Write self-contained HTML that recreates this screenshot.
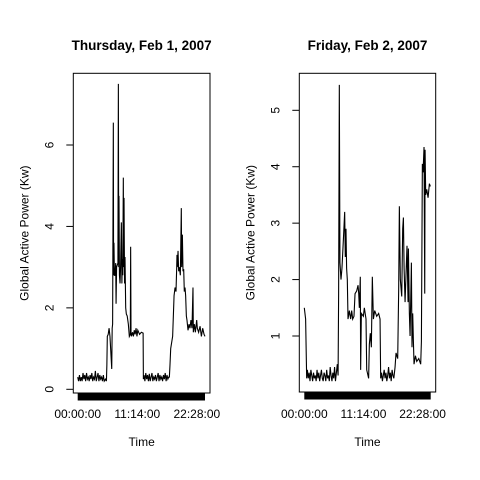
<!DOCTYPE html>
<html><head><meta charset="utf-8"><style>
html,body{margin:0;padding:0;background:#fff}
svg{display:block;font-family:"Liberation Sans",Arial,sans-serif}
</style></head><body>
<svg id="chart" width="480" height="480" viewBox="0 0 480 480" xmlns="http://www.w3.org/2000/svg">
<rect width="480" height="480" fill="#fff"/>
</svg>
<script>
// Thursday data (minute of day, global active power kW)
const thuMinutes=[0,10,20,30,40,50,60,70,80,90,100,110,120,130,140,150,160,170,180,190,200,210,220,230,240,250,260,270,280,290,300,315,325,330,335,345,355,365,385,390,395,403,406,410,415,422,430,434,440,455,460,464,467,472,479,485,494,500,505,510,516,520,524,530,535,543,550,560,573,584,595,599,603,607,620,630,640,650,660,670,680,690,700,720,740,743,750,760,770,780,790,800,810,820,830,840,850,860,870,880,890,900,910,920,930,940,950,960,970,980,990,1000,1010,1020,1030,1037,1044,1052,1074,1090,1101,1112,1120,1123,1127,1135,1142,1150,1161,1172,1176,1184,1191,1199,1206,1214,1221,1229,1236,1248,1259,1270,1281,1293,1304,1308,1320,1331,1346,1353,1368,1384,1399,1414,1429,1440];
const thuPower=[0.3,0.2,0.35,0.2,0.3,0.2,0.4,0.25,0.35,0.2,0.4,0.25,0.3,0.2,0.35,0.25,0.4,0.2,0.3,0.25,0.45,0.2,0.3,0.4,0.2,0.35,0.25,0.3,0.2,0.35,0.2,0.25,0.2,0.6,1.3,1.35,1.5,1.3,0.5,1.5,1.6,6.55,2.8,3.6,2.8,2.8,3.1,2.1,3.0,3.1,7.5,3.0,4.75,2.8,2.6,3.0,4.1,2.6,3.2,2.8,5.2,3.0,4.7,2.6,3.25,2.0,1.85,1.8,1.6,1.3,1.35,3.5,1.4,1.3,1.4,1.3,1.45,1.35,1.5,1.3,1.45,1.4,1.35,1.4,1.38,0.25,0.35,0.2,0.4,0.25,0.35,0.2,0.38,0.2,0.3,0.4,0.2,0.3,0.25,0.35,0.2,0.3,0.4,0.2,0.35,0.25,0.3,0.2,0.35,0.25,0.4,0.2,0.35,0.25,0.3,0.3,0.6,1.0,1.3,2.3,2.5,2.4,3.0,3.3,3.0,3.4,2.9,3.0,2.8,4.45,3.0,3.8,2.9,2.95,2.4,2.5,2.3,1.8,1.7,1.45,1.6,1.5,1.7,1.5,2.5,1.4,1.6,1.4,1.7,1.5,1.4,1.55,1.3,1.5,1.35,1.3];
// Friday data
const friMinutes=[0,15,27,35,45,55,65,75,85,95,105,115,125,135,145,155,165,175,185,195,205,215,225,235,245,255,265,275,285,295,305,315,325,335,345,355,369,376,385,391,399,406,418,429,445,460,467,475,482,490,498,513,528,540,551,566,578,597,612,620,627,638,642,650,673,684,703,711,733,741,752,764,775,787,802,825,847,863,870,880,890,900,910,920,930,940,950,960,970,980,990,1000,1010,1020,1034,1045,1064,1075,1083,1094,1110,1121,1129,1137,1148,1170,1182,1186,1197,1205,1220,1227,1235,1243,1250,1266,1281,1304,1326,1334,1345,1353,1364,1372,1376,1383,1395,1410,1425,1436];
const friPower=[1.5,1.3,0.25,0.4,0.25,0.35,0.2,0.4,0.3,0.2,0.35,0.25,0.3,0.2,0.4,0.25,0.35,0.2,0.3,0.4,0.25,0.2,0.35,0.3,0.2,0.4,0.25,0.3,0.2,0.45,0.3,0.2,0.35,0.25,0.45,0.2,0.4,0.5,0.3,1.75,5.45,2.3,2.0,2.2,2.7,3.2,2.4,2.9,2.2,2.0,1.3,1.45,1.3,1.45,1.3,1.35,1.75,1.8,1.9,1.75,1.5,2.05,0.4,1.4,1.35,1.5,1.3,0.4,0.25,0.85,1.05,0.8,2.05,1.3,1.45,1.35,1.4,1.3,0.25,0.35,0.2,0.3,0.4,0.25,0.35,0.2,0.3,0.45,0.25,0.35,0.2,0.4,0.3,0.25,0.45,0.7,0.6,1.8,3.3,2.0,1.7,2.9,3.1,2.2,1.6,2.6,1.6,2.55,1.4,1.0,2.3,0.8,1.4,0.9,0.5,0.65,0.55,0.6,0.5,0.9,4.05,3.9,4.35,1.75,4.3,3.5,3.6,3.45,3.7,3.65];
const yTicksThu=[0,2,4,6];
const yTicksFri=[1,2,3,4,5];
const xTickLabels=["00:00:00","11:14:00","22:28:00"];
const xTickMinutes=[0,674,1348];

const NS="http://www.w3.org/2000/svg";
const svg=document.getElementById('chart');
function mk(tag,attrs,parent){const e=document.createElementNS(NS,tag);for(const k in attrs)e.setAttribute(k,attrs[k]);(parent||svg).appendChild(e);return e;}

function panel(p){
  const g=mk('g',{});
  
  
  const xS=m=>p.dx0+m/1440*(p.dx1-p.dx0);
  const yS=v=>p.y0+(p.y1-p.y0)*(v-p.v0)/(p.v1-p.v0);
  // title
  const t=mk('text',{x:(p.bx0+p.bx1)/2,y:50,'text-anchor':'middle','font-size':'13.5','font-weight':'bold',fill:'#000'},g);
  t.textContent=p.title;
  
  
  // box
  const b=mk('rect',{x:p.bx0,y:73.3,width:p.bx1-p.bx0,height:p.by1-73.3,fill:'none',stroke:'#000','stroke-width':1},g);
  
  
  // y ticks
  p.yt.forEach(v=>{
    const y=yS(v);
    const l=mk('line',{x1:p.bx0,x2:p.bx0-7,y1:y,y2:y,stroke:'#000'},g);
    
    
    const tx=p.bx0-20;
    const tl=mk('text',{x:tx,y:y,'font-size':'12','text-anchor':'middle',transform:`rotate(-90 ${tx} ${y})`,fill:'#000'},g);
    tl.textContent=v;
    
    
  });
  // x tick bar (many minute ticks)
  const bar=mk('rect',{x:p.dx0,y:p.by1,width:p.dx1-p.dx0,height:7.5,fill:'#000'},g);
  
  
  xTickLabels.forEach((s,i)=>{
    const xl=mk('text',{x:xS(xTickMinutes[i]),y:418,'font-size':'12','text-anchor':'middle',fill:'#000'},g);
    xl.textContent=s;
    
    
  });
  const xt=mk('text',{x:(p.bx0+p.bx1)/2,y:446,'font-size':'12','text-anchor':'middle',fill:'#000'},g);
  xt.textContent='Time';
  
  
  const yy=(73.3+p.by1)/2, yx=p.bx0-45;
  const yt=mk('text',{x:yx,y:yy,'font-size':'12','text-anchor':'middle',transform:`rotate(-90 ${yx} ${yy})`,fill:'#000'},g);
  yt.textContent='Global Active Power (Kw)';
  
  
  // line
  const d=p.m.map((m,i)=>(i?'L':'M')+xS(m).toFixed(2)+' '+yS(p.v[i]).toFixed(2)).join(' ');
  const path=mk('path',{d:d,fill:'none',stroke:'#000','stroke-width':1.1,'stroke-linejoin':'miter'},g);
  
  
}
panel({name:'thursday-panel',title:'Thursday, Feb 1, 2007',bx0:73.3,bx1:210,by1:393,dx0:77.7,dx1:205,v0:0,y0:389.3,v1:6,y1:145,yt:yTicksThu,m:thuMinutes,v:thuPower});
panel({name:'friday-panel',title:'Friday, Feb 2, 2007',bx0:299.3,bx1:435.7,by1:392,dx0:304.3,dx1:430.7,v0:1,y0:336,v1:5,y1:110.3,yt:yTicksFri,m:friMinutes,v:friPower});
</script>
</body></html>
